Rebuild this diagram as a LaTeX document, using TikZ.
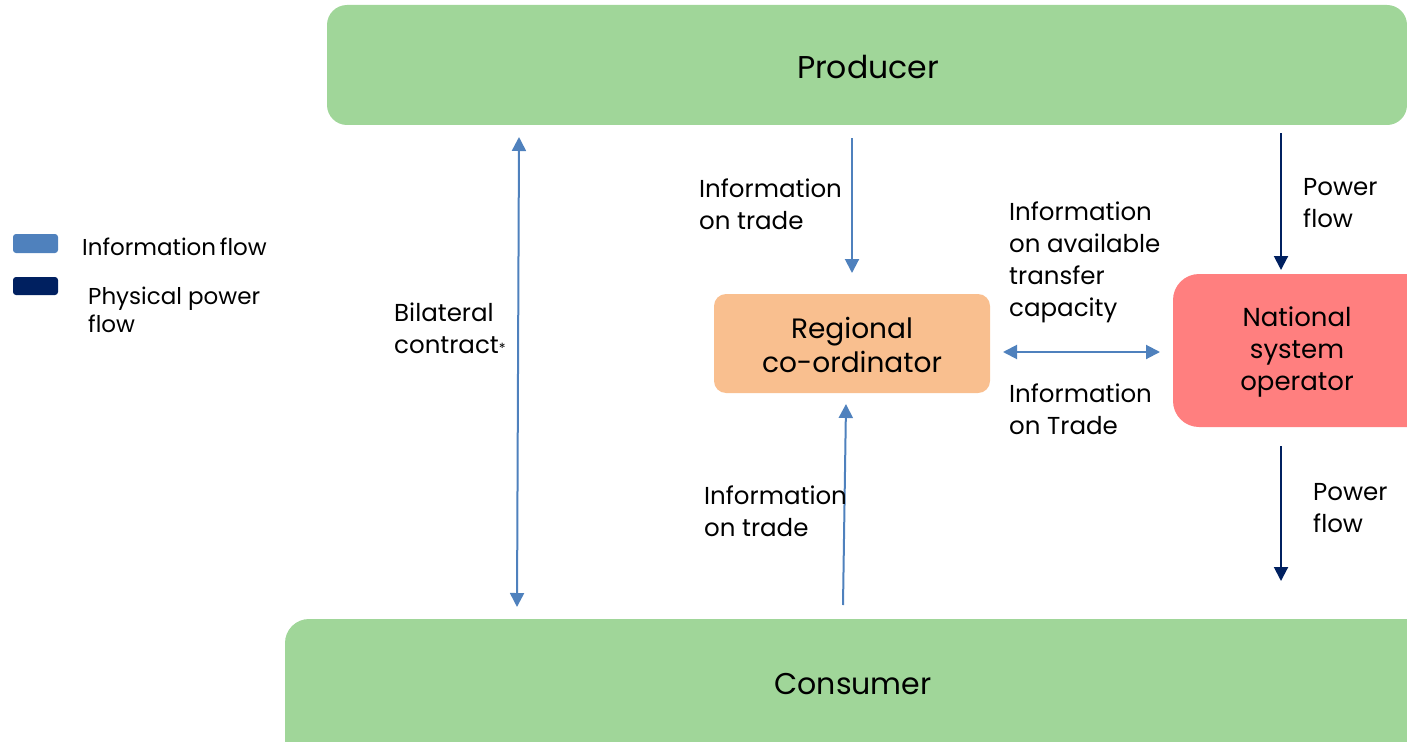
\documentclass[tikz,border=0pt]{standalone}
\usepackage{fontspec}
\setmainfont{Poppins}
\usetikzlibrary{arrows.meta}
\definecolor{boxgreen}{RGB}{160,214,153}
\definecolor{infoblue}{RGB}{79,129,189}
\definecolor{navy}{RGB}{0,32,96}
\definecolor{orangebox}{RGB}{249,191,143}
\definecolor{redbox}{RGB}{255,127,127}
\tikzset{
  box/.style={inner sep=0pt, outer sep=0pt},
  lbl/.style={anchor=west, align=left, inner sep=0pt, font=\fontsize{24.5}{32}\selectfont},
  infoarrow/.style={draw=infoblue, line width=2pt, -{Triangle[length=14pt,width=14pt]}},
  infodouble/.style={draw=infoblue, line width=2pt, {Triangle[length=14pt,width=14pt]}-{Triangle[length=14pt,width=14pt]}},
  powerarrow/.style={draw=navy, line width=2pt, -{Triangle[length=14pt,width=14pt]}},
}
\begin{document}
\begin{tikzpicture}[x=1pt,y=-1pt]
\useasboundingbox (0,0) rectangle (1407,741);
\clip (0,0) rectangle (1407,741);
% boxes
\fill[boxgreen, rounded corners=20pt] (327,5) rectangle (1407,125);
\node[box, font=\fontsize{31.5}{36}\selectfont] (producer) at (868,67) {Producer};
\fill[boxgreen, rounded corners=24pt] (285,619) rectangle (1440,780);
\node[box, font=\fontsize{30}{36}\selectfont] (consumer) at (853,684) {Consumer};
\fill[orangebox, rounded corners=12pt] (714,294) rectangle (990,393);
\node[box, align=center, font=\fontsize{28}{34}\selectfont] (rc) at (852,345) {Regional\\co-ordinator};
\fill[redbox, rounded corners=26pt] (1173,274) rectangle (1440,427);
\node[box, align=center, font=\fontsize{26}{32}\selectfont] (nso) at (1297,352) {National\\system\\operator};
% legend
\fill[infoblue, rounded corners=3pt] (13,234) rectangle (58,253);
\fill[navy, rounded corners=3pt] (13,277) rectangle (58,295);
\node[lbl, font=\fontsize{23}{28}\selectfont] (leg1) at (82,247) {Information\,flow};
\node[lbl, font=\fontsize{23}{28}\selectfont] (leg2) at (88,310) {Physical power\\flow};
% coordinates
\coordinate (b1) at (519,137);
\coordinate (b2) at (517,607);
\coordinate (t1) at (852,138);
\coordinate (t2) at (852,273);
\coordinate (u1) at (843,605);
\coordinate (u2) at (846,404);
\coordinate (h1) at (1003,352);
\coordinate (h2) at (1160,352);
\coordinate (p1) at (1281,133);
\coordinate (p2) at (1281,270);
\coordinate (q1) at (1281,446);
\coordinate (q2) at (1281,581);
% arrows
\draw[infodouble] (b1) -- (b2);
\draw[infoarrow] (t1) -- (t2);
\draw[infoarrow] (u1) -- (u2);
\draw[infodouble] (h1) -- (h2);
\draw[powerarrow] (p1) -- (p2);
\draw[powerarrow] (q1) -- (q2);
% labels
\node[lbl] (l1) at (699,204) {Information\\on trade};
\node[lbl] (l2) at (1009,262) {Information\\on available\\transfer\\capacity};
\node[lbl] (l3) at (1009,409) {Information\\on Trade};
\node[lbl] (l4) at (704,511) {Information\\on trade};
\node[lbl] (l5) at (394,328) {Bilateral\\contract{\fontsize{14}{14}\selectfont *}};
\node[lbl] (l6) at (1303,203) {Power\\flow};
\node[lbl] (l7) at (1313,508) {Power\\flow};
\end{tikzpicture}
\end{document}
